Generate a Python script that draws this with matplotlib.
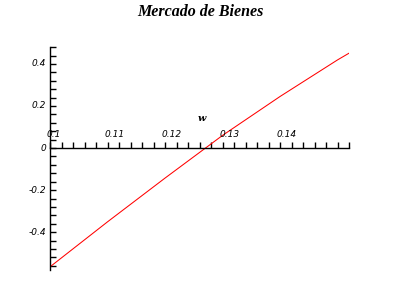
import numpy as np
import matplotlib
matplotlib.use('Agg')
import matplotlib.pyplot as plt
from matplotlib.ticker import MultipleLocator
from matplotlib.transforms import offset_copy

# valores
w = [0.100, 0.110, 0.120, 0.130, 0.140, 0.150, 0.152]
exceso = [-0.565, -0.351, -0.143, 0.060, 0.245, 0.419, 0.451]
xticks = [0.10, 0.11, 0.12, 0.13, 0.14]
xlabels = ['0.1', '0.11', '0.12', '0.13', '0.14']
yticks = [-0.4, -0.2, 0.0, 0.2, 0.4]
ylabels = ['-0.4', '-0.2', '0', '0.2', '0.4']

fig = plt.figure(figsize=(4, 3), dpi=100)
ax = fig.add_axes([0.125, 0.1, 0.7475, 0.743])

ax.plot(w, exceso, color='red', linewidth=0.75)

ax.set_xlim(0.1, 0.152)
ax.set_ylim(-0.58, 0.48)

for s in ['top', 'right']:
    ax.spines[s].set_visible(False)
ax.spines['bottom'].set_position(('data', 0))
ax.spines['left'].set_position(('data', 0.1))
for s in ['bottom', 'left']:
    ax.spines[s].set_linewidth(1.0)

ax.xaxis.set_major_locator(MultipleLocator(0.002))
ax.yaxis.set_major_locator(MultipleLocator(0.04))
ax.tick_params(axis='both', direction='in', length=4, width=1.0,
               labelbottom=False, labelleft=False)

font_lbl = dict(family='DejaVu Sans', style='italic', size=6.5)

# etiquetas del eje x por encima del eje
tr_x = offset_copy(ax.transData, fig=fig, x=-3, y=9, units='dots')
for t, lab in zip(xticks, xlabels):
    ax.text(t, 0, lab, transform=tr_x, ha='left', va='bottom', **font_lbl)

tr_y = offset_copy(ax.transData, fig=fig, x=-4, y=0, units='dots')
for t, lab in zip(yticks, ylabels):
    ax.text(0.1, t, lab, transform=tr_y, ha='right', va='center', **font_lbl)

ax.text(0.1265, 0.14, 'w', ha='center', va='center', family='DejaVu Serif',
        style='italic', weight='bold', size=7)

fig.text(0.5, 0.96, 'Mercado de Bienes', ha='center', va='center',
         family='Liberation Serif', style='italic', weight='bold', size=11.5)

fig.savefig('out.png', dpi=100)
